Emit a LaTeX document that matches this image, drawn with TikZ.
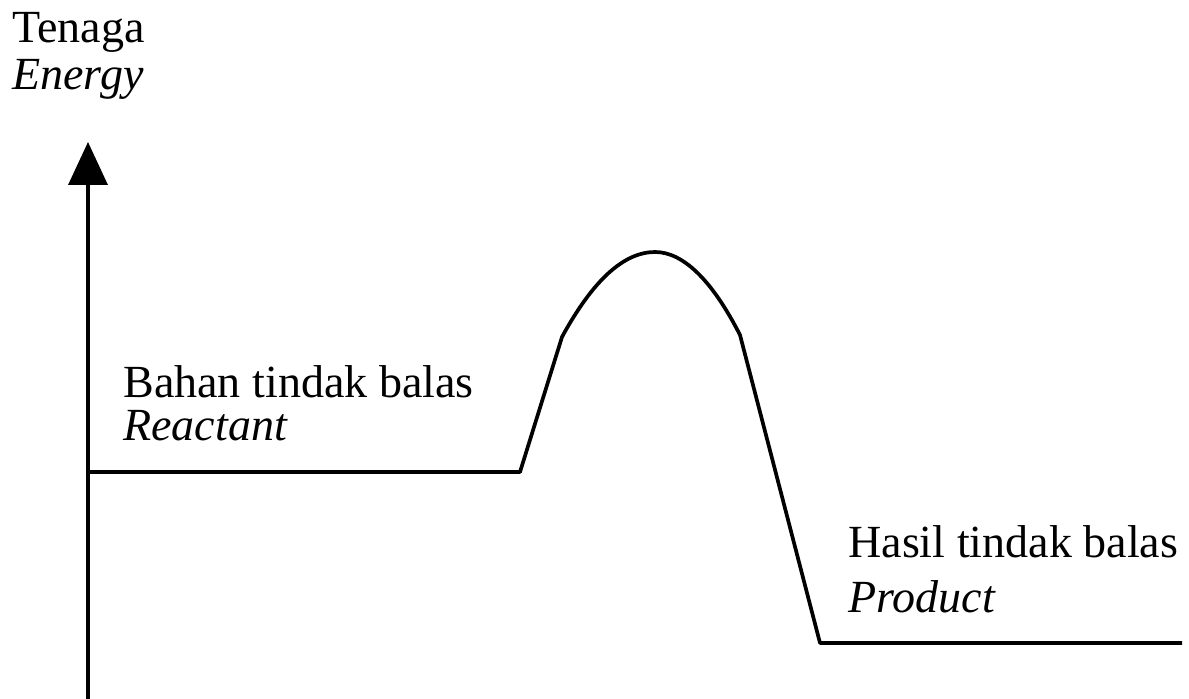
\documentclass[tikz,border=0pt]{standalone}
\usepackage{fontspec}
\setmainfont{Liberation Serif}
\usepackage{tikz}
\usetikzlibrary{arrows.meta, positioning, calc}

\begin{document}
\begin{tikzpicture}[
  x=0.02cm, y=-0.02cm,
  font=\fontsize{26.2}{30}\selectfont,
  curve/.style={line width=2.1pt, line join=round},
  axisline/.style={line width=2.1pt, -{Triangle[length=0.86cm, width=0.78cm]}},
  label/.style={anchor=base west, inner sep=0pt}
]
\useasboundingbox (0,0) rectangle (1189,699);

% AXIS
\coordinate (origin) at (88,699);
\coordinate (top) at (88,142);
\draw[axisline] (origin) -- (top);
\node[label] (tenaga) at (12,43) {Tenaga};
\node[label] (energy) at (12,90) {\itshape Energy};

% PROFILE
\coordinate (start) at (90,472);
\coordinate (rise) at (520,472);
\coordinate (kinkL) at (562,337);
\coordinate (peak) at (655,252);
\coordinate (kinkR) at (740,335);
\coordinate (fall) at (820,643);
\coordinate (end) at (1182,643);
\draw[curve] (start) -- (rise) -- (kinkL)
  .. controls (593,280) and (624,252) .. (peak)
  .. controls (683,252) and (712,280) .. (kinkR)
  -- (fall) -- (end);

% LABELS
\node[label] (bahan) at (123,397) {Bahan tindak balas};
\node[label] (reactant) at (123,440) {\itshape Reactant};
\node[label] (hasil) at (848,557) {Hasil tindak balas};
\node[label] (product) at (848,612) {\itshape Product};

\end{tikzpicture}
\end{document}
